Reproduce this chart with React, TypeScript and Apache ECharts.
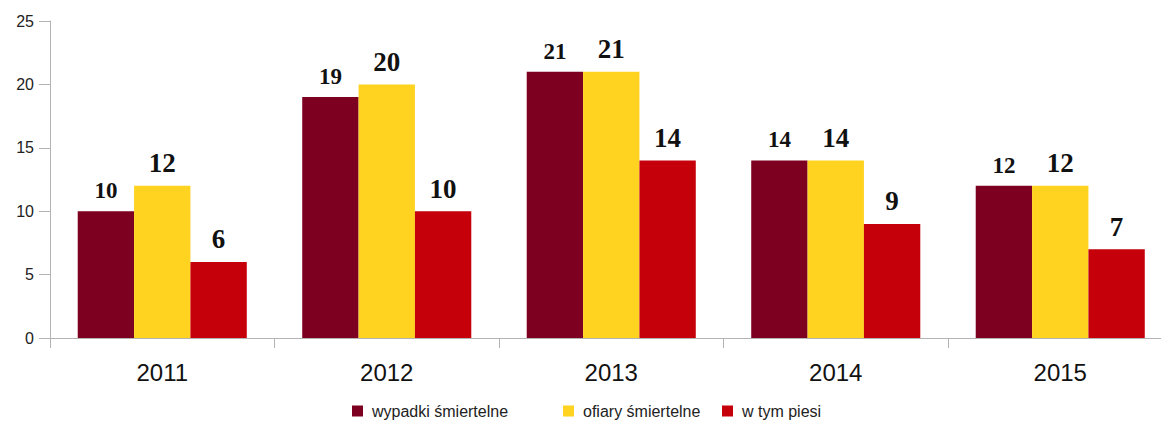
import React, { useEffect, useRef } from "react";
import * as echarts from "echarts";

const categories = ["2011", "2012", "2013", "2014", "2015"];
const seriesNames = ["wypadki śmiertelne", "ofiary śmiertelne", "w tym piesi"];
const wypadki = [10, 19, 21, 14, 12];
const ofiary = [12, 20, 21, 14, 12];
const piesi = [6, 10, 14, 9, 7];
const colors = ["#7E0021", "#FFD320", "#C5000B"];
const labelSizes = [23, 27, 27];
const legendLefts = [352, 563, 722];

export default function App() {
  const ref = useRef<HTMLDivElement>(null);
  useEffect(() => {
    if (!ref.current) return;
    const chart = echarts.init(ref.current, undefined, { renderer: "svg" });
    const dataSets = [wypadki, ofiary, piesi];
    chart.setOption({
      animation: false,
      grid: { left: 50, top: 21, width: 1122.5, height: 317 },
      legend: seriesNames.map((name, i) => ({
        top: 403,
        left: legendLefts[i],
        padding: 0,
        itemWidth: 11,
        itemHeight: 11,
        icon: "rect",
        textStyle: { fontFamily: "Liberation Sans", fontSize: 16, color: "#222", padding: [0, 0, 0, 4] },
        data: [name],
      })),
      xAxis: {
        type: "category",
        data: categories,
        axisLine: { lineStyle: { color: "#b3b3b3", width: 1 } },
        axisTick: { show: true, length: 10, lineStyle: { color: "#b3b3b3" } },
        axisLabel: { fontFamily: "Liberation Sans", fontSize: 24, color: "#111", margin: 22 },
      },
      yAxis: {
        type: "value",
        min: 0,
        max: 25,
        interval: 5,
        axisLine: { show: true, lineStyle: { color: "#b3b3b3", width: 1 } },
        axisTick: { show: true, length: 11, lineStyle: { color: "#b3b3b3" } },
        splitLine: { show: false },
        axisLabel: { fontFamily: "Liberation Sans", fontSize: 16, color: "#222", margin: 16 },
      },
      series: seriesNames.map((name, i) => ({
        name,
        type: "bar",
        data: dataSets[i],
        itemStyle: { color: colors[i] },
        barGap: "0%",
        barCategoryGap: "24.7%",
        label: {
          show: true,
          position: "top",
          distance: 9,
          fontFamily: "Liberation Serif",
          fontWeight: "bold",
          fontSize: labelSizes[i],
          color: "#111",
        },
      })),
    });
    return () => chart.dispose();
  }, []);
  return (
    <div
      style={{ position: "absolute", left: 0, top: 0, width: 1161, height: 421, overflow: "hidden", background: "#fff" }}
    >
      <div ref={ref} style={{ width: 1180, height: 421 }} />
    </div>
  );
}
